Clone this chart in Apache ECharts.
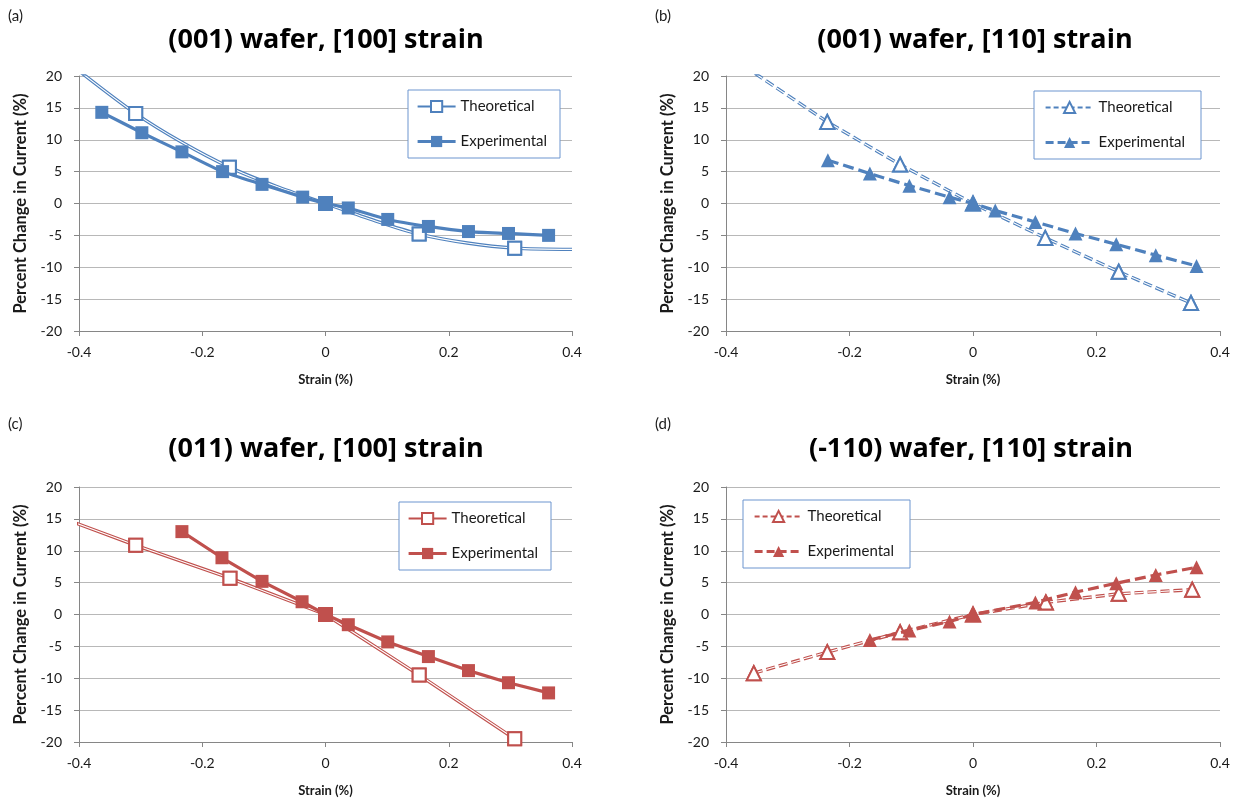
<!DOCTYPE html>
<html>
<head>
<meta charset="utf-8">
<script src="https://cdn.jsdelivr.net/npm/echarts@6/dist/echarts.min.js"></script>
<style>
  html, body { margin: 0; padding: 0; background: #ffffff; }
  #chart { width: 1240px; height: 803px; }
</style>
</head>
<body>
<div id="chart"></div>
<script>
// ---------- data ----------
const xTicks = [-0.4, -0.2, 0, 0.2, 0.4];
const yTicks = [-20, -15, -10, -5, 0, 5, 10, 15, 20];
const seriesNames = ['Theoretical', 'Experimental'];
const panelLabels = ['(a)', '(b)', '(c)', '(d)'];
const panelTitles = ['(001) wafer, [100] strain', '(001) wafer, [110] strain',
                     '(011) wafer, [100] strain', '(-110) wafer, [110] strain'];

// (a) (001) wafer, [100] strain
const aTheoX = [-0.308, -0.156, 0, 0.152, 0.307];
const aTheoY = [14.1, 5.7, 0, -4.8, -7.0];
const aTheoCurveX = [-0.4, -0.233, -0.08, 0.08, 0.23, 0.4];   // curve points read between markers (no marker)
const aTheoCurveY = [20.8, 9.6, 2.7, -2.7, -6.2, -7.2];
const aExpX = [-0.363, -0.298, -0.233, -0.167, -0.103, -0.037, 0, 0.037, 0.101, 0.167, 0.232, 0.297, 0.362];
const aExpY = [14.3, 11.1, 8.1, 5.0, 3.0, 1.0, 0, -0.7, -2.5, -3.6, -4.4, -4.7, -5.0];

// (b) (001) wafer, [110] strain
const bTheoX = [-0.353, -0.236, -0.118, 0, 0.117, 0.236, 0.353];
const bTheoY = [20.4, 12.8, 6.1, 0, -5.4, -10.7, -15.6];
const bExpX = [-0.235, -0.167, -0.103, -0.038, 0, 0.036, 0.101, 0.166, 0.232, 0.296, 0.362];
const bExpY = [6.8, 4.7, 2.8, 1.0, 0, -1.1, -2.9, -4.7, -6.4, -8.1, -9.8];

// (c) (011) wafer, [100] strain
const cTheoX = [-0.46, -0.308, -0.155, 0, 0.152, 0.307];
const cTheoY = [16.3, 10.85, 5.7, 0, -9.5, -19.5];
const cExpX = [-0.233, -0.168, -0.103, -0.038, 0, 0.037, 0.101, 0.167, 0.232, 0.297, 0.362];
const cExpY = [13.0, 8.9, 5.2, 2.0, 0, -1.6, -4.3, -6.6, -8.8, -10.7, -12.3];

// (d) (-110) wafer, [110] strain
const dTheoX = [-0.355, -0.236, -0.118, 0, 0.118, 0.236, 0.355];
const dTheoY = [-9.2, -5.9, -2.8, 0, 1.9, 3.25, 3.9];
const dExpX = [-0.167, -0.103, -0.038, 0, 0.101, 0.166, 0.232, 0.296, 0.362];
const dExpY = [-4.0, -2.5, -1.1, 0, 1.9, 3.5, 4.9, 6.2, 7.4];

// ---------- styling / layout ----------
const BLUE = '#4F81BD';
const RED = '#C0504D';
const FONT = 'Lato, "Open Sans", "Noto Sans", sans-serif';
const TFONT = '"Open Sans", Lato, sans-serif';
const TXT = '#1a1a1a';
const IDS = ['a', 'b', 'c', 'd'];

const grids = [
  { left: 79,  top: 76,  width: 493, height: 255 },
  { left: 726, top: 76,  width: 494, height: 255 },
  { left: 79,  top: 487, width: 493, height: 255 },
  { left: 726, top: 487, width: 494, height: 255 }
];
const legendPos = [
  { left: 408, top: 90 },
  { left: 1034, top: 91 },
  { left: 399, top: 502 },
  { left: 743, top: 500 }
];
const titlePos = [
  { x: 326, y: 40 }, { x: 975, y: 40 }, { x: 326, y: 449 }, { x: 971, y: 449 }
];
const labelPos = [
  { x: 8, y: 9 }, { x: 655, y: 9 }, { x: 8, y: 417 }, { x: 655, y: 417 }
];

function pairs(xs, ys) { return xs.map((x, i) => [x, ys[i]]); }

const dashTheo = [9, 4];
const dashExp = [11, 5];

const panels = [
  { color: BLUE, theoSym: 'emptyRect', expSym: 'rect', dashed: false, smooth: true,
    theo: pairs(aTheoX, aTheoY), theoCurve: pairs(aTheoCurveX, aTheoCurveY), exp: pairs(aExpX, aExpY) },
  { color: BLUE, theoSym: 'emptyTriangle', expSym: 'triangle', dashed: true, smooth: false,
    theo: pairs(bTheoX, bTheoY), theoCurve: [], exp: pairs(bExpX, bExpY) },
  { color: RED, theoSym: 'emptyRect', expSym: 'rect', dashed: false, smooth: false,
    theo: pairs(cTheoX, cTheoY), theoCurve: [], exp: pairs(cExpX, cExpY) },
  { color: RED, theoSym: 'emptyTriangle', expSym: 'triangle', dashed: true, smooth: false,
    theo: pairs(dTheoX, dTheoY), theoCurve: [], exp: pairs(dExpX, dExpY) }
];

const option = {
  animation: false,
  backgroundColor: '#ffffff',
  textStyle: { fontFamily: FONT },
  grid: grids.map(g => Object.assign({ containLabel: false }, g)),
  xAxis: [], yAxis: [], series: [], legend: [], graphic: []
};

panels.forEach((p, i) => {
  const id = IDS[i];
  option.xAxis.push({
    type: 'value', gridIndex: i, min: xTicks[0], max: xTicks[xTicks.length - 1],
    interval: xTicks[1] - xTicks[0],
    name: 'Strain (%)', nameLocation: 'middle', nameGap: 42,
    nameTextStyle: { fontFamily: FONT, fontWeight: 'bold', fontSize: 13, color: TXT },
    axisLine: { onZero: false, lineStyle: { color: '#868686', width: 1 } },
    axisTick: { show: true, inside: false, length: 5, lineStyle: { color: '#868686' } },
    axisLabel: { margin: 14, fontFamily: FONT, fontSize: 14, color: TXT },
    splitLine: { show: false }
  });
  option.yAxis.push({
    type: 'value', gridIndex: i, min: yTicks[0], max: yTicks[yTicks.length - 1],
    interval: yTicks[1] - yTicks[0],
    name: 'Percent Change in Current (%)', nameLocation: 'middle', nameGap: 50, nameRotate: 90,
    nameTextStyle: { fontFamily: FONT, fontWeight: 'bold', fontSize: 16.5, color: TXT },
    axisLine: { show: true, onZero: false, lineStyle: { color: '#868686', width: 1 } },
    axisTick: { show: true, inside: false, length: 5, lineStyle: { color: '#868686' } },
    axisLabel: { margin: 17, fontFamily: FONT, fontSize: 14, color: TXT },
    splitLine: { show: true, lineStyle: { color: '#b8b8b8', width: 1 } }
  });

  // theoretical data; extra curve points drawn without markers
  const theoData = p.theo.map(v => ({ value: v }))
    .concat(p.theoCurve.map(v => ({ value: v, symbol: 'none' })))
    .sort((a, b) => a.value[0] - b.value[0]);

  const triangle = p.theoSym.indexOf('Triangle') >= 0;
  const symSize = triangle ? 14 : 13;
  const tName = seriesNames[0] + '|' + id;
  const eName = seriesNames[1] + '|' + id;

  // outer (coloured) stroke of the double line
  option.series.push({
    name: tName, type: 'line', xAxisIndex: i, yAxisIndex: i,
    data: theoData, smooth: p.smooth ? 0.3 : false,
    symbol: p.theoSym, symbolSize: symSize, clip: true,
    lineStyle: { color: p.color, width: 3.4, type: p.dashed ? dashTheo : 'solid' },
    itemStyle: { color: p.color, borderWidth: 1.4 },
    z: 2
  });
  // inner light gap of the double line (same data)
  option.series.push({
    name: tName + '|inner', type: 'line', xAxisIndex: i, yAxisIndex: i,
    data: theoData, smooth: p.smooth ? 0.3 : false,
    symbol: p.theoSym, symbolSize: symSize, clip: true,
    lineStyle: { color: '#ffffff', width: 1.1, type: p.dashed ? dashTheo : 'solid' },
    itemStyle: { color: p.color, borderWidth: 1.4 },
    silent: true, z: 2
  });
  // experimental
  option.series.push({
    name: eName, type: 'line', xAxisIndex: i, yAxisIndex: i,
    data: p.exp, smooth: p.smooth ? 0.2 : false,
    symbol: p.expSym, symbolSize: triangle ? 14 : 13, clip: true,
    lineStyle: { color: p.color, width: 3.2, type: p.dashed ? dashExp : 'solid' },
    itemStyle: { color: p.color },
    z: 3
  });

  option.legend.push({
    data: [
      { name: tName, lineStyle: { width: 2.2, color: p.color, type: p.dashed ? [5, 3] : 'solid' } },
      { name: eName, lineStyle: { width: 3.2, color: p.color, type: p.dashed ? [8, 4] : 'solid' } }
    ],
    orient: 'vertical',
    left: legendPos[i].left, top: legendPos[i].top,
    padding: triangle ? [9, 16, 9, 10] : [9, 13, 9, 8],
    itemGap: 20, itemWidth: triangle ? 48 : 38, itemHeight: 14,
    backgroundColor: '#ffffff', borderColor: '#6d95cf', borderWidth: 1, borderRadius: 0,
    textStyle: { fontFamily: FONT, fontSize: 15, color: TXT },
    formatter: name => name.split('|')[0],
    selectedMode: false
  });

  option.graphic.push({
    type: 'text', x: labelPos[i].x, y: labelPos[i].y,
    style: { text: panelLabels[i], font: '15px ' + FONT, fill: TXT }
  });
  option.graphic.push({
    type: 'text', x: titlePos[i].x, y: titlePos[i].y,
    style: { text: panelTitles[i], font: 'bold 27px ' + TFONT, fill: '#000000',
             align: 'center', verticalAlign: 'middle' }
  });
});

const chart = echarts.init(document.getElementById('chart'), null, { renderer: 'canvas' });
chart.setOption(option);
</script>
</body>
</html>
